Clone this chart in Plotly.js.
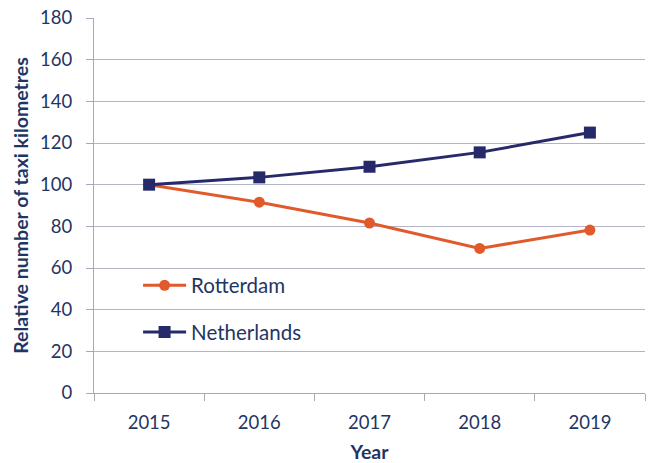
<!DOCTYPE html>
<html>
<head>
<meta charset="utf-8">
<script src="https://cdn.plot.ly/plotly-3.0.1.min.js"></script>
<style>html,body{margin:0;padding:0;background:#fff;}#chart{width:650px;height:463px;}</style>
</head>
<body>
<div id="chart"></div>
<script>
const years = ["2015", "2016", "2017", "2018", "2019"];
const rotterdam = [100, 91.6, 81.6, 69.4, 78.2];
const netherlands = [100, 103.5, 108.6, 115.5, 125.0];
const yTicks = [0, 20, 40, 60, 80, 100, 120, 140, 160, 180];

const navy = "#262a6b";
const orange = "#e05a2b";
const textColor = "#1f3564";
const font = "Lato, 'Open Sans', sans-serif";

const traces = [
  {x: years, y: rotterdam, name: "Rotterdam", type: "scatter", mode: "lines+markers",
   legendgroup: "r",
   line: {color: orange, width: 3}, marker: {symbol: "circle", size: 11, color: orange}},
  {x: years, y: netherlands, name: "Netherlands", type: "scatter", mode: "lines+markers",
   legendgroup: "n",
   line: {color: navy, width: 3}, marker: {symbol: "square", size: 12, color: navy}}
];

const layout = {
  width: 650, height: 463,
  margin: {l: 94, r: 5, t: 18, b: 70},
  paper_bgcolor: "#fff", plot_bgcolor: "#fff",
  font: {family: font, color: textColor, size: 18},
  showlegend: true,
  legend: {x: 0.08, y: 0.34, xanchor: "left", yanchor: "top",
           bgcolor: "rgba(0,0,0,0)", font: {size: 20.5, color: textColor},
           itemwidth: 43,
           traceorder: "grouped", tracegroupgap: 17},
  xaxis: {
    type: "category", categoryarray: years,
    tickson: "boundaries", ticks: "outside", ticklen: 7, tickcolor: "#a8a8b8",
    showline: true, linecolor: "#a8a8b8", linewidth: 1,
    showgrid: false, zeroline: false,
    tickfont: {size: 18.5, color: textColor},
    ticklabelstandoff: 13,
    title: {text: "<b>Year</b>", font: {size: 19.5, color: textColor}, standoff: 13},
    range: [-0.5, 4.5]
  },
  yaxis: {
    range: [0, 180], tickvals: yTicks, ticktext: yTicks.map(String),
    ticks: "outside", ticklen: 7, tickcolor: "#a8a8b8",
    showline: true, linecolor: "#a8a8b8", linewidth: 1,
    showgrid: true, gridcolor: "#b4b4c4", gridwidth: 1,
    zeroline: false,
    tickfont: {size: 18.5, color: textColor},
    ticklabelstandoff: 10,
    title: {text: "<b>Relative number of taxi kilometres</b>", font: {size: 19.5, color: textColor}, standoff: 6}
  }
};

Plotly.newPlot("chart", traces, layout, {displayModeBar: false, staticPlot: true});
</script>
</body>
</html>
